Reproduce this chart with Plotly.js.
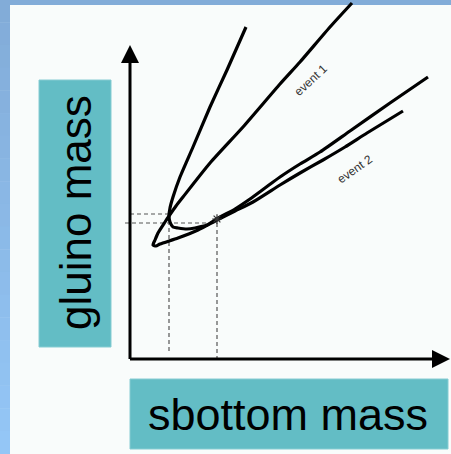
<!DOCTYPE html>
<html>
<head>
<meta charset="utf-8">
<script src="https://cdn.plot.ly/plotly-3.0.1.min.js"></script>
<style>html,body{margin:0;padding:0;background:#f9fcfb;}#chart{width:451px;height:454px;}</style>
</head>
<body>
<div id="chart"></div>
<script>
// Curve for event 1 (sbottom mass, gluino mass) in arbitrary units
const event1X = [116, 97, 80, 63, 50, 43, 40, 39, 40, 43, 48, 57, 65, 77, 85, 92, 105, 120, 135, 150, 170, 190, 220, 260, 298];
const event1Y = [332, 289, 252, 212, 182, 162, 151, 143, 137, 132, 131, 130, 131, 134, 139, 143, 150, 160, 171, 182, 195, 207, 228, 256, 282];
// Curve for event 2
const event2X = [222, 200, 170, 150, 113, 80, 53, 46, 39, 35, 28, 25, 23, 26, 30, 48, 68, 87, 105, 123, 150, 170, 193, 215, 237, 273];
const event2Y = [356, 332, 297, 275, 232, 196, 162, 153, 143, 137, 126, 119, 114, 113, 115, 121, 129, 139, 148, 157, 174, 186, 199, 212, 226, 248];
// Intersection points of the two curves
const crossX = [39, 87];
const crossY = [145, 136];
const crossMarkX = [87];
const crossMarkY = [140];
// Axis extents
const xAxisEnd = 320;
const yAxisEnd = 314;
// Labels
const curveLabels = ["event 1", "event 2"];
const xLabel = "sbottom mass";
const yLabel = "gluino mass";

const dash = {color: '#555', width: 1.2, dash: '4px,3px'};
const traces = [
  {x: [0, crossX[0]], y: [crossY[0], crossY[0]], mode: 'lines', line: dash, hoverinfo: 'skip'},
  {x: [crossX[0], crossX[0]], y: [crossY[0], 6], mode: 'lines', line: dash, hoverinfo: 'skip'},
  {x: [-5, crossX[1]], y: [crossY[1], crossY[1]], mode: 'lines', line: dash, hoverinfo: 'skip'},
  {x: [crossX[1], crossX[1]], y: [crossY[1], -3], mode: 'lines', line: dash, hoverinfo: 'skip'},
  {x: event1X, y: event1Y, mode: 'lines', line: {color: '#000', width: 3.2, shape: 'spline', smoothing: 0.6}, name: curveLabels[0]},
  {x: event2X, y: event2Y, mode: 'lines', line: {color: '#000', width: 3.2, shape: 'spline', smoothing: 0.6}, name: curveLabels[1]},
  {x: crossMarkX, y: crossMarkY, mode: 'markers', marker: {symbol: 'asterisk-open', size: 8, color: '#333', line: {width: 1.2, color: '#333'}}, hoverinfo: 'skip'}
];

// Frame: top strip and left gradient strip
const shapes = [
  {type: 'rect', xref: 'paper', yref: 'paper', x0: 0, x1: 1, y0: 1 - 5/454, y1: 1, fillcolor: '#82acd8', line: {width: 0}, layer: 'below'}
];
const nSteps = 20;
for (let i = 0; i < nSteps; i++) {
  const t = i / (nSteps - 1);
  const r = Math.round(0x82 + t * (0x94 - 0x82));
  const g = Math.round(0xac + t * (0xc6 - 0xac));
  const b = Math.round(0xd8 + t * (0xf6 - 0xd8));
  shapes.push({type: 'rect', xref: 'paper', yref: 'paper', x0: 0, x1: 10/451,
    y0: 1 - (i + 1) / nSteps, y1: 1 - i / nSteps + 0.001,
    fillcolor: `rgb(${r},${g},${b})`, line: {width: 0}, layer: 'below'});
}
// Label boxes
shapes.push({type: 'rect', xref: 'x', yref: 'y', x0: -91, x1: -19, y0: 12, y1: 279, fillcolor: '#63bdc5', line: {color: '#86ccd2', width: 1}, layer: 'below'});
shapes.push({type: 'rect', xref: 'x', yref: 'y', x0: 0, x1: 318, y0: -90, y1: -20, fillcolor: '#63bdc5', line: {color: '#86ccd2', width: 1}, layer: 'below'});

const annotations = [
  {x: 0, y: yAxisEnd, ax: 0, ay: -1.5, xref: 'x', yref: 'y', axref: 'x', ayref: 'y', text: '', showarrow: true, arrowhead: 2, arrowsize: 1.2, arrowwidth: 3, arrowcolor: '#000', standoff: 0},
  {x: xAxisEnd, y: 0, ax: -1.5, ay: 0, xref: 'x', yref: 'y', axref: 'x', ayref: 'y', text: '', showarrow: true, arrowhead: 2, arrowsize: 1.2, arrowwidth: 3, arrowcolor: '#000', standoff: 0},
  {x: -55, y: 146, xref: 'x', yref: 'y', text: yLabel, showarrow: false, textangle: -90, font: {family: 'Liberation Sans, Arial, sans-serif', size: 44, color: '#000'}},
  {x: 158, y: -55, xref: 'x', yref: 'y', text: xLabel, showarrow: false, font: {family: 'Liberation Sans, Arial, sans-serif', size: 45, color: '#000'}},
  {x: 181, y: 279, xref: 'x', yref: 'y', text: curveLabels[0], showarrow: false, textangle: -43, font: {family: 'Liberation Sans, Arial, sans-serif', size: 12, color: '#333'}},
  {x: 225, y: 190, xref: 'x', yref: 'y', text: curveLabels[1], showarrow: false, textangle: -35, font: {family: 'Liberation Sans, Arial, sans-serif', size: 12, color: '#333'}}
];

const layout = {
  width: 451, height: 454,
  margin: {l: 0, r: 0, t: 0, b: 0},
  paper_bgcolor: '#f9fcfb', plot_bgcolor: 'rgba(0,0,0,0)',
  showlegend: false,
  xaxis: {range: [-130, 321], visible: false, fixedrange: true},
  yaxis: {range: [-95, 359], visible: false, fixedrange: true},
  shapes: shapes,
  annotations: annotations
};
Plotly.newPlot('chart', traces, layout, {displayModeBar: false, staticPlot: true});
</script>
</body>
</html>
